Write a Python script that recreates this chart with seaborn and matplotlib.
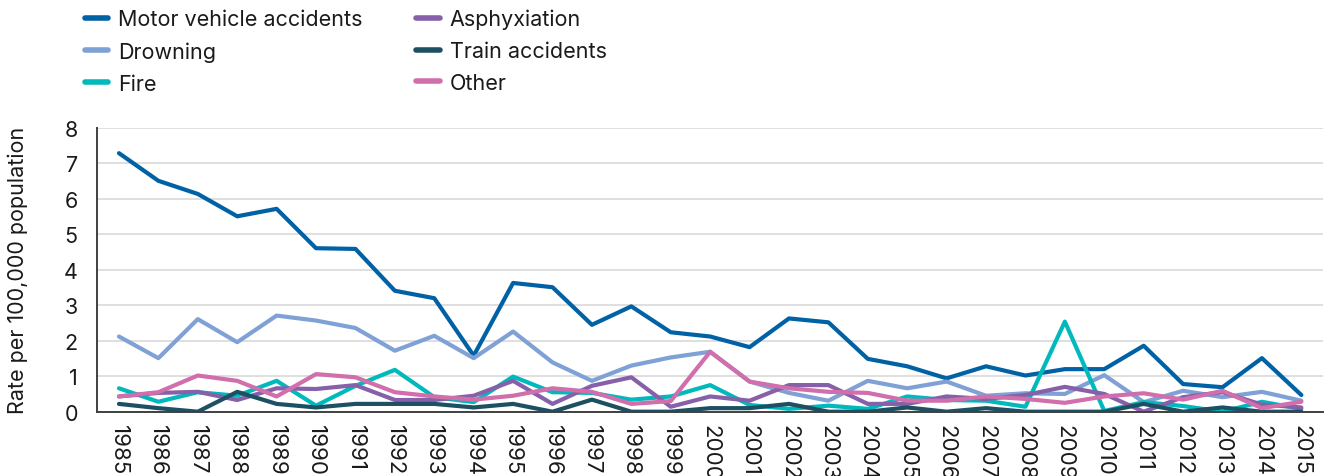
import numpy as np
import pandas as pd
import matplotlib
matplotlib.use("Agg")
import matplotlib.pyplot as plt
import seaborn as sns

# ── Data ──────────────────────────────────────────────────
years = list(range(1985, 2016))

motor_vehicle = [7.29, 6.51, 6.14, 5.51, 5.72, 4.61, 4.59, 3.41, 3.20, 1.58,
                 3.63, 3.51, 2.45, 2.97, 2.24, 2.12, 1.82, 2.63, 2.52, 1.49,
                 1.28, 0.94, 1.28, 1.02, 1.20, 1.20, 1.86, 0.78, 0.69, 1.51, 0.47]
drowning = [2.12, 1.51, 2.61, 1.96, 2.71, 2.57, 2.36, 1.72, 2.14, 1.51,
            2.26, 1.39, 0.87, 1.30, 1.53, 1.69, 0.85, 0.53, 0.31, 0.87,
            0.66, 0.85, 0.45, 0.52, 0.50, 1.03, 0.27, 0.59, 0.41, 0.56, 0.31]
fire = [0.66, 0.28, 0.55, 0.45, 0.87, 0.17, 0.73, 1.18, 0.41, 0.27,
        0.99, 0.55, 0.53, 0.34, 0.43, 0.75, 0.19, 0.08, 0.17, 0.08,
        0.43, 0.33, 0.31, 0.14, 2.54, 0.02, 0.27, 0.16, 0.00, 0.28, 0.08]
asphyxiation = [0.43, 0.53, 0.56, 0.33, 0.66, 0.64, 0.75, 0.33, 0.33, 0.45,
                0.87, 0.22, 0.73, 0.97, 0.14, 0.43, 0.31, 0.75, 0.75, 0.22,
                0.22, 0.43, 0.36, 0.47, 0.70, 0.50, 0.00, 0.41, 0.55, 0.20, 0.12]
train = [0.22, 0.10, 0.00, 0.56, 0.22, 0.12, 0.22, 0.22, 0.22, 0.12,
         0.22, 0.00, 0.34, 0.00, 0.00, 0.10, 0.10, 0.22, 0.00, 0.00,
         0.12, 0.00, 0.10, 0.00, 0.00, 0.00, 0.22, 0.00, 0.12, 0.00, 0.00]
other = [0.43, 0.55, 1.02, 0.87, 0.43, 1.06, 0.97, 0.55, 0.43, 0.34,
         0.45, 0.66, 0.56, 0.22, 0.30, 1.69, 0.85, 0.66, 0.56, 0.53,
         0.31, 0.31, 0.43, 0.36, 0.25, 0.43, 0.52, 0.34, 0.59, 0.10, 0.28]

series = {
    "Motor vehicle accidents": motor_vehicle,
    "Drowning": drowning,
    "Fire": fire,
    "Asphyxiation": asphyxiation,
    "Train accidents": train,
    "Other": other,
}
colors = {
    "Motor vehicle accidents": "#0062a5",
    "Drowning": "#7fa1d6",
    "Fire": "#00b9bd",
    "Asphyxiation": "#8660a9",
    "Train accidents": "#1d5062",
    "Other": "#d06fab",
}

df = pd.concat(
    [pd.DataFrame({"idx": np.arange(len(years)), "rate": v, "cause": k})
     for k, v in series.items()],
    ignore_index=True,
)

# ── Style ─────────────────────────────────────────────────
sns.set_theme(style="white")
plt.rcParams["font.family"] = ["Inter", "DejaVu Sans"]
TEXT = "#1a1a1a"
AXIS = "#404040"
FS = 15.5

fig = plt.figure(figsize=(13.31, 4.77), dpi=100)
ax = fig.add_axes([0.0731, 0.1348, 0.9209, 0.5948])

sns.lineplot(data=df, x="idx", y="rate", hue="cause", palette=colors,
             hue_order=list(series.keys()), linewidth=3.0, ax=ax,
             legend=False)

ax.set_xlim(-0.55, len(years) - 0.45)
ax.set_ylim(0, 8)
ax.set_yticks(range(0, 9))
ax.yaxis.grid(True, color="#d9d9d9", linewidth=1.2)
ax.set_axisbelow(True)

# labels at category centres, tick marks at boundaries
ax.set_xticks(np.arange(len(years)))
ax.set_xticklabels([str(y) for y in years], rotation=-90, fontsize=16, color=TEXT)
ax.set_xticks(np.arange(len(years) + 1) - 0.5, minor=True)
ax.tick_params(axis="x", which="major", length=0, pad=9)
ax.tick_params(axis="x", which="minor", length=11, width=1.2, color=AXIS)
ax.tick_params(axis="y", length=8, width=1.2, color=AXIS, labelsize=FS,
               labelcolor=TEXT, pad=6)

for side in ["top", "right"]:
    ax.spines[side].set_visible(False)
for side in ["left", "bottom"]:
    ax.spines[side].set_color(AXIS)
    ax.spines[side].set_linewidth(1.4)

ax.set_xlabel("")
ax.set_ylabel("Rate per 100,000 population", fontsize=FS, color=TEXT)
ax.yaxis.set_label_coords(-0.0563, 0.5)

handles = [plt.Line2D([], [], color=colors[k], linewidth=4) for k in series]
fig.legend(handles, list(series.keys()), loc="upper left",
           bbox_to_anchor=(0.049, 1.02), ncol=2, frameon=False,
           fontsize=FS, handlelength=1.1, handletextpad=0.45,
           labelspacing=0.55, columnspacing=2.5, labelcolor=TEXT)

fig.savefig("out.png", dpi=100)
plt.close("all")
